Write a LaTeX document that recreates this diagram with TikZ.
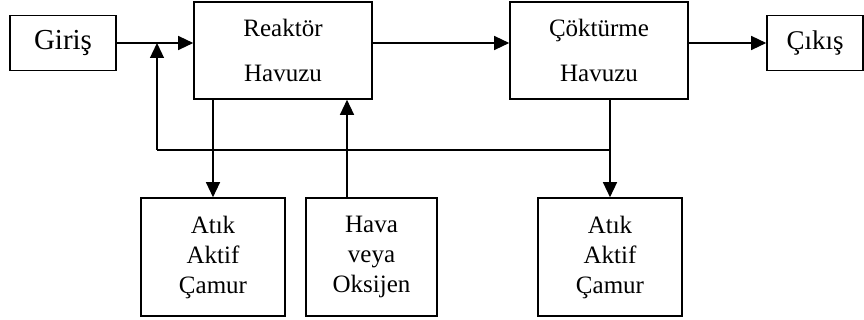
\documentclass[tikz,border=0pt]{standalone}
\usepackage{fontspec}
\setmainfont{Liberation Serif}
\usetikzlibrary{arrows.meta}

\tikzset{
  box/.style={draw, line width=1.6pt, inner sep=0pt, align=center,
    font=\fontsize{25}{30}\selectfont},
  flow/.style={line width=1.3pt, -{Triangle[length=15pt,width=14pt]}},
  line/.style={line width=1.3pt}
}

\begin{document}
\begin{tikzpicture}[x=1pt,y=-1pt]

\useasboundingbox (0,0) rectangle (864,320);

% top row
\node [box, minimum width=106pt, minimum height=55pt,
  font=\fontsize{29}{30}\selectfont] (giris) at (63,43) {Giriş};
\node [box, minimum width=178pt, minimum height=97pt,
  font=\fontsize{25}{45}\selectfont] (reaktor) at (283,50.5) {Reaktör\\Havuzu};
\node [box, minimum width=178pt, minimum height=97pt,
  font=\fontsize{25}{45}\selectfont] (cokturme) at (599,50.5) {Çöktürme\\Havuzu};
\node [box, minimum width=96pt, minimum height=55pt,
  font=\fontsize{27}{30}\selectfont] (cikis) at (815,43) {Çıkış};

% bottom row
\node [box, minimum width=144pt, minimum height=118pt] (atik1) at (213,257) {Atık\\Aktif\\Çamur};
\node [box, minimum width=131pt, minimum height=118pt] (hava) at (371.5,257) {Hava\\veya\\Oksijen};
\node [box, minimum width=144pt, minimum height=118pt] (atik2) at (610,257) {Atık\\Aktif\\Çamur};

\coordinate (geri) at (157,150);

\draw [flow] (giris.east) -- (giris.east -| reaktor.west);
\draw [flow] (reaktor.east |- giris) -- (cokturme.west |- giris);
\draw [flow] (cokturme.east |- cikis) -- (cikis.west);

\draw [flow] (atik1.north |- reaktor.south) -- (atik1.north);
\draw [flow] ([xshift=-24.5pt]hava.north) -- ([xshift=-24.5pt]hava.north |- reaktor.south);
\draw [flow] (atik2.north |- cokturme.south) -- (atik2.north);

% return sludge
\draw [line] (atik2.north |- geri) -- (geri);
\draw [flow] (geri) -- (geri |- giris);

\end{tikzpicture}
\end{document}
